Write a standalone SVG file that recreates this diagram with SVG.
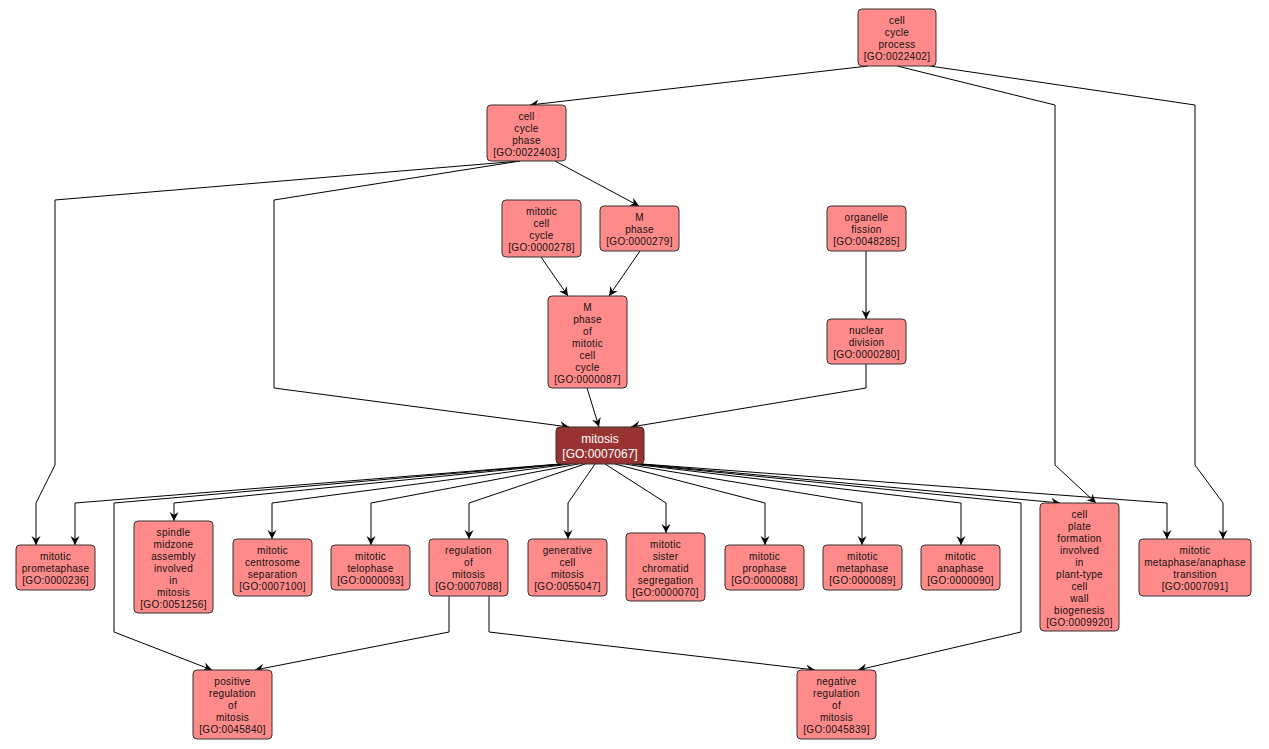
<svg xmlns="http://www.w3.org/2000/svg" width="1269" height="749" viewBox="0 0 1269 749">
<style>
.n rect{fill:#ff8a8a;stroke:#333;stroke-width:1}
.n text{font-family:"Liberation Sans",Arial,sans-serif;font-size:10px;fill:#111;text-anchor:middle;letter-spacing:0.3px}
.m rect{fill:#993333;stroke:#333;stroke-width:1}
.m text{font-family:"Liberation Sans",Arial,sans-serif;font-size:12px;fill:#fff;text-anchor:middle}
#edges path{fill:none;stroke:#000;stroke-width:1;marker-end:url(#arr)}
</style>
<defs>
<marker id="arr" viewBox="0 -5 10 10" refX="9" refY="0" markerWidth="10" markerHeight="10" markerUnits="userSpaceOnUse" orient="auto">
<path d="M0,-4.5 L9,0 L0,4.5 L3,0 Z" fill="#000"/>
</marker>
</defs>
<rect width="1269" height="749" fill="#fff"/>
<g id="edges">
<path d="M868,66 L530,105"/>
<path d="M897,66 L1055,105 L1055,465 L1096,503"/>
<path d="M930,66 L1195,105 L1195,465 L1223,503 L1223,539"/>
<path d="M520,161 L55,200 L55,465 L36,503 L36,545"/>
<path d="M520,161 L274,200 L274,388 L569,427"/>
<path d="M555,161 L639,206"/>
<path d="M541,257 L568,296"/>
<path d="M640,251 L609,296"/>
<path d="M866,251 L866,319"/>
<path d="M866,364 L866,388 L631,427"/>
<path d="M587,388 L599,427"/>
<path d="M560,464 L75,503 L75,545"/>
<path d="M562,464 L114,503 L114,632 L212,670"/>
<path d="M565,464 L174,503 L174,521"/>
<path d="M570,464 L272,503 L272,539"/>
<path d="M578,464 L371,503 L371,545"/>
<path d="M585,464 L469,503 L469,539"/>
<path d="M595,464 L568,503 L568,539"/>
<path d="M605,464 L666,503 L666,533"/>
<path d="M615,464 L765,503 L765,545"/>
<path d="M625,464 L862,503 L862,545"/>
<path d="M632,464 L961,503 L961,545"/>
<path d="M636,464 L1021,503 L1021,632 L858,670"/>
<path d="M640,464 L1060,503"/>
<path d="M642,464 L1167,503 L1167,539"/>
<path d="M449,596 L449,632 L255,670"/>
<path d="M489,596 L489,632 L815,670"/>
</g>
<g id="n_0022402" class="n"><rect x="858" y="9" width="78" height="57" rx="4"/><text x="897" y="23.5">cell</text><text x="897" y="35.5">cycle</text><text x="897" y="47.5">process</text><text x="897" y="59.5">[GO:0022402]</text></g>
<g id="n_0022403" class="n"><rect x="487" y="105" width="79" height="56" rx="4"/><text x="526.5" y="119.5">cell</text><text x="526.5" y="131.5">cycle</text><text x="526.5" y="143.5">phase</text><text x="526.5" y="155.5">[GO:0022403]</text></g>
<g id="n_0000278" class="n"><rect x="502" y="200" width="79" height="57" rx="4"/><text x="541.5" y="214.5">mitotic</text><text x="541.5" y="226.5">cell</text><text x="541.5" y="238.5">cycle</text><text x="541.5" y="250.5">[GO:0000278]</text></g>
<g id="n_0000279" class="n"><rect x="600" y="206" width="79" height="45" rx="4"/><text x="639.5" y="220.5">M</text><text x="639.5" y="232.5">phase</text><text x="639.5" y="244.5">[GO:0000279]</text></g>
<g id="n_0048285" class="n"><rect x="827" y="206" width="79" height="45" rx="4"/><text x="866.5" y="220.5">organelle</text><text x="866.5" y="232.5">fission</text><text x="866.5" y="244.5">[GO:0048285]</text></g>
<g id="n_0000087" class="n"><rect x="548" y="296" width="79" height="92" rx="4"/><text x="587.5" y="310.5">M</text><text x="587.5" y="322.5">phase</text><text x="587.5" y="334.5">of</text><text x="587.5" y="346.5">mitotic</text><text x="587.5" y="358.5">cell</text><text x="587.5" y="370.5">cycle</text><text x="587.5" y="382.5">[GO:0000087]</text></g>
<g id="n_0000280" class="n"><rect x="827" y="319" width="79" height="45" rx="4"/><text x="866.5" y="333.5">nuclear</text><text x="866.5" y="345.5">division</text><text x="866.5" y="357.5">[GO:0000280]</text></g>
<g id="n_0007067" class="m"><rect x="556" y="427" width="88" height="37" rx="4"/><text x="600" y="443">mitosis</text><text x="600" y="457.5">[GO:0007067]</text></g>
<g id="n_0000236" class="n"><rect x="16" y="545" width="79" height="45" rx="4"/><text x="55.5" y="559.5">mitotic</text><text x="55.5" y="571.5">prometaphase</text><text x="55.5" y="583.5">[GO:0000236]</text></g>
<g id="n_0051256" class="n"><rect x="134" y="521" width="79" height="92" rx="4"/><text x="173.5" y="535.5">spindle</text><text x="173.5" y="547.5">midzone</text><text x="173.5" y="559.5">assembly</text><text x="173.5" y="571.5">involved</text><text x="173.5" y="583.5">in</text><text x="173.5" y="595.5">mitosis</text><text x="173.5" y="607.5">[GO:0051256]</text></g>
<g id="n_0007100" class="n"><rect x="233" y="539" width="79" height="57" rx="4"/><text x="272.5" y="553.5">mitotic</text><text x="272.5" y="565.5">centrosome</text><text x="272.5" y="577.5">separation</text><text x="272.5" y="589.5">[GO:0007100]</text></g>
<g id="n_0000093" class="n"><rect x="331" y="545" width="79" height="45" rx="4"/><text x="370.5" y="559.5">mitotic</text><text x="370.5" y="571.5">telophase</text><text x="370.5" y="583.5">[GO:0000093]</text></g>
<g id="n_0007088" class="n"><rect x="429" y="539" width="79" height="57" rx="4"/><text x="468.5" y="553.5">regulation</text><text x="468.5" y="565.5">of</text><text x="468.5" y="577.5">mitosis</text><text x="468.5" y="589.5">[GO:0007088]</text></g>
<g id="n_0055047" class="n"><rect x="528" y="539" width="79" height="57" rx="4"/><text x="567.5" y="553.5">generative</text><text x="567.5" y="565.5">cell</text><text x="567.5" y="577.5">mitosis</text><text x="567.5" y="589.5">[GO:0055047]</text></g>
<g id="n_0000070" class="n"><rect x="626" y="533" width="79" height="68" rx="4"/><text x="665.5" y="547.5">mitotic</text><text x="665.5" y="559.5">sister</text><text x="665.5" y="571.5">chromatid</text><text x="665.5" y="583.5">segregation</text><text x="665.5" y="595.5">[GO:0000070]</text></g>
<g id="n_0000088" class="n"><rect x="725" y="545" width="79" height="45" rx="4"/><text x="764.5" y="559.5">mitotic</text><text x="764.5" y="571.5">prophase</text><text x="764.5" y="583.5">[GO:0000088]</text></g>
<g id="n_0000089" class="n"><rect x="823" y="545" width="79" height="45" rx="4"/><text x="862.5" y="559.5">mitotic</text><text x="862.5" y="571.5">metaphase</text><text x="862.5" y="583.5">[GO:0000089]</text></g>
<g id="n_0000090" class="n"><rect x="921" y="545" width="79" height="45" rx="4"/><text x="960.5" y="559.5">mitotic</text><text x="960.5" y="571.5">anaphase</text><text x="960.5" y="583.5">[GO:0000090]</text></g>
<g id="n_0009920" class="n"><rect x="1040" y="503" width="79" height="128" rx="4"/><text x="1079.5" y="517.5">cell</text><text x="1079.5" y="529.5">plate</text><text x="1079.5" y="541.5">formation</text><text x="1079.5" y="553.5">involved</text><text x="1079.5" y="565.5">in</text><text x="1079.5" y="577.5">plant-type</text><text x="1079.5" y="589.5">cell</text><text x="1079.5" y="601.5">wall</text><text x="1079.5" y="613.5">biogenesis</text><text x="1079.5" y="625.5">[GO:0009920]</text></g>
<g id="n_0007091" class="n"><rect x="1139" y="539" width="112" height="57" rx="4"/><text x="1195" y="553.5">mitotic</text><text x="1195" y="565.5">metaphase/anaphase</text><text x="1195" y="577.5">transition</text><text x="1195" y="589.5">[GO:0007091]</text></g>
<g id="n_0045840" class="n"><rect x="193" y="670" width="79" height="69" rx="4"/><text x="232.5" y="684.5">positive</text><text x="232.5" y="696.5">regulation</text><text x="232.5" y="708.5">of</text><text x="232.5" y="720.5">mitosis</text><text x="232.5" y="732.5">[GO:0045840]</text></g>
<g id="n_0045839" class="n"><rect x="797" y="670" width="79" height="69" rx="4"/><text x="836.5" y="684.5">negative</text><text x="836.5" y="696.5">regulation</text><text x="836.5" y="708.5">of</text><text x="836.5" y="720.5">mitosis</text><text x="836.5" y="732.5">[GO:0045839]</text></g>
</svg>
